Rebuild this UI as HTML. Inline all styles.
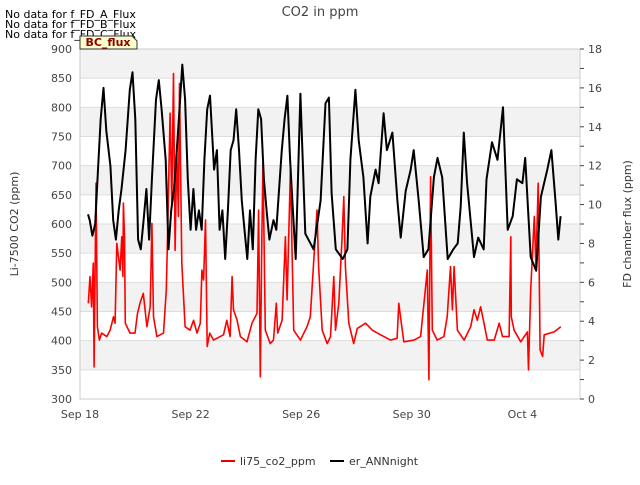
<!DOCTYPE html>
<html><head><meta charset="utf-8"><style>
body{margin:0;background:#fff;font-family:"Liberation Sans","DejaVu Sans",sans-serif}
svg text{font-family:"DejaVu Sans","Liberation Sans",sans-serif}
</style></head><body>
<svg id="c" width="640" height="480" xmlns="http://www.w3.org/2000/svg">
<text x="320" y="16" text-anchor="middle" font-size="13" fill="#444">CO2 in ppm</text>
<g id="bands"></g><g id="grid"></g>
<rect x="80" y="49" width="500" height="350" fill="none" stroke="#ccc"/>
<g id="axes"></g><g id="series"></g>
<text x="5" y="18" font-size="11" fill="#000">No data for f_FD_A_Flux</text>
<text x="5" y="28" font-size="11" fill="#000">No data for f_FD_B_Flux</text>
<text x="5" y="38" font-size="11" fill="#000">No data for f_FD_C_Flux</text>
<path d="M80,49 L80,36 L132,36 L137,41 L137,49 Z" fill="#ffffcc" stroke="#333"/>
<text x="108" y="46" text-anchor="middle" font-size="11" font-weight="bold" fill="#8b0000">BC_flux</text>
<text transform="translate(18,224) rotate(-90)" text-anchor="middle" font-size="11" fill="#333">Li-7500 CO2 (ppm)</text>
<text transform="translate(631,224) rotate(-90)" text-anchor="middle" font-size="11" fill="#333">FD chamber flux (ppm)</text>
<line x1="221" y1="461" x2="235" y2="461" stroke="#e00" stroke-width="2"/>
<text x="240" y="465" font-size="11" fill="#333">li75_co2_ppm</text>
<line x1="330" y1="461" x2="344" y2="461" stroke="#000" stroke-width="2"/>
<text x="349" y="465" font-size="11" fill="#333">er_ANNnight</text>
</svg>
<script>
const leftTicks=[300,350,400,450,500,550,600,650,700,750,800,850,900];
const rightTicks=[0,2,4,6,8,10,12,14,16,18];
const xTickDays=[0,4,8,12,16];
const xTickLabels=["Sep 18","Sep 22","Sep 26","Sep 30","Oct 4"];
const co2T=[0.30,0.36,0.42,0.48,0.51,0.58,0.63,0.70,0.78,0.97,1.09,1.21,1.27,1.33,1.45,1.51,1.55,1.57,1.61,1.64,1.81,1.99,2.08,2.17,2.29,2.42,2.54,2.60,2.66,2.78,3.02,3.12,3.16,3.26,3.32,3.38,3.44,3.50,3.56,3.60,3.68,3.80,3.98,4.11,4.23,4.35,4.41,4.47,4.54,4.60,4.69,4.83,5.19,5.31,5.43,5.50,5.55,5.68,5.80,6.04,6.22,6.40,6.46,6.52,6.58,6.62,6.70,6.88,7.00,7.10,7.15,7.31,7.43,7.49,7.61,7.73,7.97,8.21,8.33,8.45,8.57,8.63,8.76,8.94,9.06,9.18,9.24,9.36,9.48,9.54,9.6,9.72,9.9,10.03,10.33,10.57,10.87,11.23,11.47,11.53,11.59,11.71,12.08,12.32,12.56,12.62,12.68,12.74,12.92,13.16,13.28,13.4,13.47,13.53,13.65,13.89,14.13,14.25,14.37,14.49,14.61,14.73,14.98,15.16,15.28,15.52,15.58,15.6,15.7,15.94,16.18,16.22,16.3,16.43,16.49,16.57,16.64,16.73,16.79,17.15,17.39];
const co2V=[464,510,458,533,355,670,424,401,413,407,418,441,430,567,521,578,510,636,578,430,413,413,447,464,481,424,458,601,441,407,413,487,567,790,636,858,555,727,613,841,533,424,418,435,413,430,521,504,607,390,413,401,410,435,407,510,453,435,407,398,430,447,624,338,584,704,418,395,401,464,413,435,578,470,693,418,401,424,441,533,624,527,418,395,407,510,418,464,578,647,527,430,395,421,430,418,410,401,404,464,441,398,401,407,521,333,681,418,401,407,441,527,453,527,418,401,424,453,435,458,430,401,401,430,407,407,578,441,418,398,415,350,487,613,527,670,384,373,410,415,424];
const annT=[0.29,0.35,0.45,0.55,0.65,0.75,0.85,0.95,1.1,1.2,1.3,1.4,1.5,1.65,1.8,1.9,2.0,2.1,2.2,2.3,2.4,2.5,2.6,2.75,2.85,2.95,3.1,3.2,3.3,3.4,3.5,3.6,3.7,3.8,3.9,4.0,4.1,4.2,4.3,4.4,4.5,4.6,4.7,4.85,4.95,5.05,5.15,5.25,5.35,5.45,5.55,5.65,5.75,5.85,5.95,6.05,6.15,6.25,6.35,6.45,6.55,6.65,6.75,6.85,7.0,7.1,7.2,7.3,7.4,7.5,7.6,7.7,7.8,7.97,8.15,8.45,8.7,8.88,9.0,9.1,9.25,9.5,9.67,9.78,9.96,10.08,10.25,10.4,10.5,10.69,10.8,10.98,11.1,11.3,11.48,11.6,11.78,11.96,12.07,12.25,12.43,12.6,12.8,12.93,13.1,13.3,13.5,13.66,13.77,13.88,14.0,14.25,14.4,14.6,14.7,14.9,15.1,15.3,15.47,15.65,15.8,16.0,16.1,16.3,16.5,16.67,16.9,17.05,17.2,17.3,17.38];
const annV=[9.5,9.2,8.4,9,11.8,14.4,16,13.8,12,9.2,8.2,9.7,10.8,12.8,15.9,16.8,14.4,8.2,7.7,9.2,10.8,8.2,11.3,15.4,16.4,14.9,12.3,7.7,9.7,10.8,12.8,14.9,17.2,15.4,11.3,8.7,10.8,8.7,9.7,8.7,12.3,14.9,15.6,11.8,12.8,8.7,9.7,7.2,9.7,12.8,13.3,14.9,12.8,10.2,8.7,7.2,9.7,7.7,12.3,14.9,14.4,11.3,9.7,8.2,9.2,8.7,10.8,12.8,14.4,15.6,12.3,9.7,7.2,15.7,8.5,7.7,10.2,15.2,15.5,10.6,7.7,7.2,7.7,12.3,15.9,13.3,11.4,8.0,10.4,11.8,11.1,14.7,12.8,13.7,10.2,8.3,10.7,11.8,12.8,10.2,7.3,7.7,11.4,12.4,11.4,7.2,7.7,8.0,9.9,13.7,11.1,7.3,8.3,7.7,11.3,13.2,12.3,15.0,8.7,9.4,11.3,11.1,12.4,7.3,6.6,10.4,11.8,12.8,10.1,8.2,9.4];
const NS="http://www.w3.org/2000/svg";
const X=d=>80+d*27.65, YL=v=>399-(v-300)*350/600, YR=v=>399-v*350/18;
function mk(tag,attrs,parent){const e=document.createElementNS(NS,tag);for(const k in attrs)e.setAttribute(k,attrs[k]);document.getElementById(parent).appendChild(e);return e;}
for(let i=0;i<leftTicks.length-1;i++){
  if(i%2===1){const r=mk('rect',{x:80,y:YL(leftTicks[i+1]),width:500,height:YL(leftTicks[i])-YL(leftTicks[i+1]),fill:'#f2f2f2'},'bands');
  
  }
}
leftTicks.forEach(v=>{
  const l=mk('line',{x1:80,x2:580,y1:YL(v),y2:YL(v),stroke:'#ddd'},'grid');
  
  
  const t=mk('text',{x:72,y:YL(v)+4,'text-anchor':'end','font-size':11,fill:'#444'},'axes');t.textContent=v;
  
  
});
for(let v=0;v<=18;v++){
  const l=mk('line',{x1:580,x2:584,y1:YR(v),y2:YR(v),stroke:'#444'},'axes');
  
  
}
rightTicks.forEach(v=>{
  const t=mk('text',{x:588,y:YR(v)+4,'font-size':11,fill:'#444'},'axes');t.textContent=v;
  
  
});
xTickDays.forEach((d,i)=>{
  const t=mk('text',{x:X(d),y:418,'text-anchor':'middle','font-size':11,fill:'#444'},'axes');t.textContent=xTickLabels[i];
  
  
});
const p1=mk('polyline',{points:co2T.map((t,i)=>X(t).toFixed(1)+','+YL(co2V[i]).toFixed(1)).join(' '),fill:'none',stroke:'#f00','stroke-width':1.6,'stroke-linejoin':'round'},'series');


const p2=mk('polyline',{points:annT.map((t,i)=>X(t).toFixed(1)+','+YR(annV[i]).toFixed(1)).join(' '),fill:'none',stroke:'#000','stroke-width':2,'stroke-linejoin':'round'},'series');


</script>
</body></html>
